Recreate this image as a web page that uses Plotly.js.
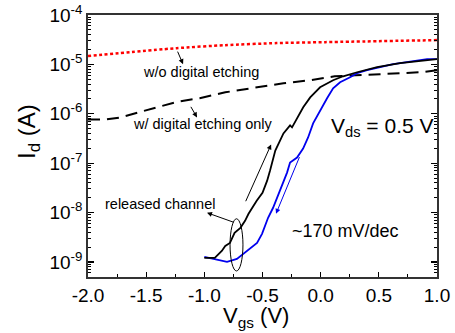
<!DOCTYPE html>
<html>
<head>
<meta charset="utf-8">
<script src="https://cdn.plot.ly/plotly-3.0.1.min.js"></script>
<style>html,body{margin:0;padding:0;background:#fff;}#chart{width:455px;height:333px;}</style>
</head>
<body>
<div id="chart"></div>
<script>
// w/o digital etching (red dotted)
const redX = [-2.0, -1.24, -0.82, -0.38, 0.04, 1.0];
const redY = [1.47e-5, 2.13e-5, 2.45e-5, 2.70e-5, 2.82e-5, 3.10e-5];

// w/ digital etching only (black dashed)
const dashX = [-2.0, -1.84, -1.72, -1.57, -1.38, -1.21, -1.04, -0.82, -0.56, -0.32, -0.09, 0.12, 0.51, 0.86, 1.0];
const dashY = [7.69e-7, 7.69e-7, 8.45e-7, 1.07e-6, 1.41e-6, 1.79e-6, 2.06e-6, 2.72e-6, 3.44e-6, 4.15e-6, 4.78e-6, 5.75e-6, 6.32e-6, 6.93e-6, 7.62e-6];

// released channel, forward sweep (black solid)
const fwdX = [-1.0, -0.91, -0.85, -0.82, -0.78, -0.74, -0.69, -0.65, -0.62, -0.59, -0.55, -0.50, -0.46, -0.435, -0.39, -0.32, -0.263, -0.246, -0.20, -0.15, -0.09, -0.005, 0.107, 0.193, 0.313, 0.485, 0.683, 0.829, 1.0];
const fwdY = [1.21e-9, 1.21e-9, 1.67e-9, 2.11e-9, 2.43e-9, 3.88e-9, 4.91e-9, 6.81e-9, 9.46e-9, 1.25e-8, 1.74e-8, 2.52e-8, 4.43e-8, 7.08e-8, 1.80e-7, 4.00e-7, 5.81e-7, 5.30e-7, 8.45e-7, 1.35e-6, 2.15e-6, 3.44e-6, 4.78e-6, 5.75e-6, 6.93e-6, 8.77e-6, 1.06e-5, 1.16e-5, 1.28e-5];

// released channel, reverse sweep (blue solid)
const revX = [-1.0, -0.89, -0.805, -0.72, -0.667, -0.607, -0.547, -0.504, -0.478, -0.452, -0.409, -0.375, -0.349, -0.323, -0.289, -0.263, -0.203, -0.151, -0.108, -0.065, -0.005, 0.055, 0.107, 0.167, 0.253, 0.313, 0.399, 0.623, 0.915, 1.0];
const revY = [1.26e-9, 1.10e-9, 1.00e-9, 1.15e-9, 1.46e-9, 1.84e-9, 2.43e-9, 3.71e-9, 5.40e-9, 7.83e-9, 1.25e-8, 2.00e-8, 2.77e-8, 3.85e-8, 6.44e-8, 1.03e-7, 1.30e-7, 1.98e-7, 3.31e-7, 6.38e-7, 1.17e-6, 2.06e-6, 3.28e-6, 4.35e-6, 5.50e-6, 6.62e-6, 7.62e-6, 1.01e-5, 1.28e-5, 1.28e-5];

// axis ticks
const xTickVals = [-2.0, -1.5, -1.0, -0.5, 0.0, 0.5, 1.0];
const xTickText = ['-2.0', '-1.5', '-1.0', '-0.5', '0.0', '0.5', '1.0'];
const yTickVals = [1e-9, 1e-8, 1e-7, 1e-6, 1e-5, 1e-4];
const yTickText = ['10<sup>-9</sup>', '10<sup>-8</sup>', '10<sup>-7</sup>', '10<sup>-6</sup>', '10<sup>-5</sup>', '10<sup>-4</sup>'];

// ellipse marking the hysteresis start (data units)
const ellipseX = [-0.779, -0.668];
const ellipseY = [6.56e-10, 7.48e-9];

const FONT = 'Arial, "Liberation Sans", sans-serif';

const traces = [
  {x: redX, y: redY, mode: 'lines', line: {color: '#ff0000', width: 2.5, dash: '3px,2.5px', shape: 'spline', smoothing: 0.6}, hoverinfo: 'skip'},
  {x: dashX, y: dashY, mode: 'lines', line: {color: '#000000', width: 2, dash: '12px,7px'}, hoverinfo: 'skip'},
  {x: revX, y: revY, mode: 'lines', line: {color: '#0000ee', width: 1.8}, hoverinfo: 'skip'},
  {x: fwdX, y: fwdY, mode: 'lines', line: {color: '#000000', width: 1.8}, hoverinfo: 'skip'}
];

function arrow(x0, y0, x1, y1) {
  return {x: x1, y: y1, ax: x0, ay: y0, xref: 'x', yref: 'y', axref: 'x', ayref: 'y',
    text: '', showarrow: true, arrowhead: 2, arrowsize: 1, arrowwidth: 1, arrowcolor: '#000', standoff: 0, startstandoff: 0};
}
function label(x, y, text, size) {
  return {x: x, y: y, xref: 'x', yref: 'y', text: text, showarrow: false,
    xanchor: 'center', yanchor: 'middle', font: {family: FONT, size: size, color: '#000'}};
}

const annotations = [
  label(-1.028, -5.159, 'w/o digital etching', 14.5),
  label(-1.011, -6.215, 'w/ digital etching only', 14.5),
  label(-1.381, -7.821, 'released channel', 14.5),
  label(0.21, -8.37, '~170 mV/dec', 18),
  label(0.528, -6.276, 'V<sub>ds</sub> = 0.5 V', 21),
  arrow(-1.235, -4.711, -1.183, -4.996),
  arrow(-1.123, -5.829, -1.063, -6.073),
  arrow(-0.736, -8.207, -0.977, -8.004),
  arrow(-0.650, -7.801, -0.426, -6.622),
  Object.assign(arrow(-0.177, -6.846, -0.384, -8.024), {arrowcolor: '#0000ee'}),
  {x: -0.172, y: 0.557, xref: 'paper', yref: 'paper', text: 'I<sub>d</sub> (A)', textangle: -90, showarrow: false,
    xanchor: 'center', yanchor: 'middle', font: {family: FONT, size: 24, color: '#000'}},
  {x: 0.481, y: -0.153, xref: 'paper', yref: 'paper', text: 'V<sub>gs</sub> (V)', showarrow: false,
    xanchor: 'center', yanchor: 'middle', font: {family: FONT, size: 22, color: '#000'}}
];

const layout = {
  width: 455, height: 333,
  margin: {l: 88, r: 18, t: 15, b: 56, pad: 0},
  paper_bgcolor: '#fff', plot_bgcolor: '#fff',
  showlegend: false,
  font: {family: FONT, color: '#000'},
  xaxis: {
    range: [-2, 1], tickmode: 'array', tickvals: xTickVals, ticktext: xTickText,
    ticks: 'inside', ticklen: 5, tickwidth: 1.2, tickcolor: '#000',
    minor: {ticks: 'inside', ticklen: 3, dtick: 0.25, tickcolor: '#000', tickwidth: 1},
    showline: true, linecolor: '#333', linewidth: 1.8, mirror: true,
    showgrid: false, zeroline: false,
    tickfont: {family: FONT, size: 19, color: '#000'}
  },
  yaxis: {
    type: 'log', range: [-9.305, -4], tickmode: 'array', tickvals: yTickVals, ticktext: yTickText,
    ticks: 'inside', ticklen: 6, tickwidth: 1.2, tickcolor: '#000',
    minor: {ticks: 'inside', ticklen: 3, dtick: 'D1', tickcolor: '#000', tickwidth: 1},
    showline: true, linecolor: '#333', linewidth: 1.8, mirror: 'ticks',
    showgrid: false, zeroline: false,
    tickfont: {family: FONT, size: 19, color: '#000'}
  },
  shapes: [
    {type: 'circle', xref: 'x', yref: 'y', x0: ellipseX[0], x1: ellipseX[1], y0: ellipseY[0], y1: ellipseY[1],
      line: {color: '#000', width: 1}}
  ],
  annotations: annotations
};

Plotly.newPlot('chart', traces, layout, {staticPlot: true, displayModeBar: false});
</script>
</body>
</html>
